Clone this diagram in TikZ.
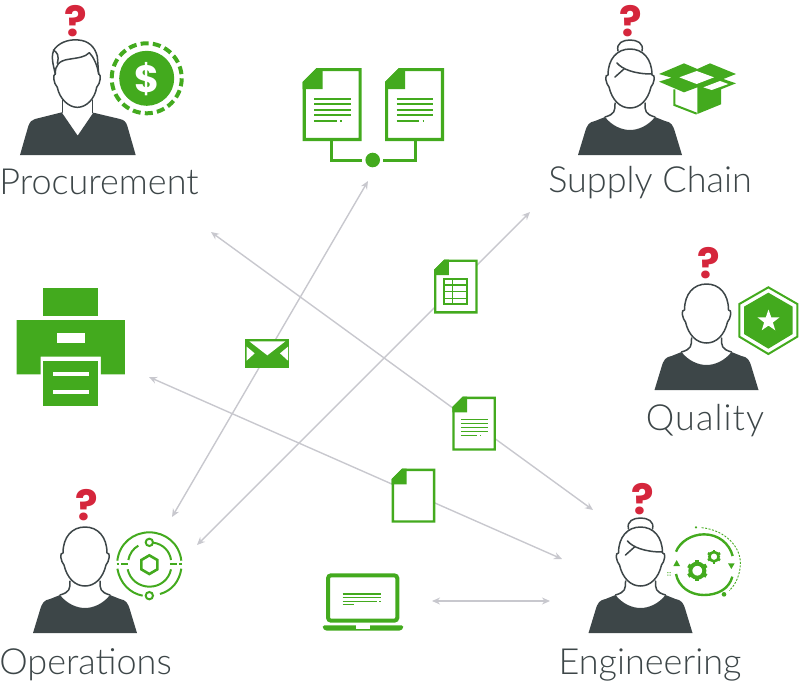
\documentclass[tikz,border=0pt]{standalone}
\usepackage{fontspec}
\setmainfont{Lato}[UprightFont={* Light}]
\newfontfamily\markfont{Poppins}[UprightFont={* Bold}]
\usepackage{tikz}
\usetikzlibrary{arrows.meta}
\usetikzlibrary{shapes.geometric}
\definecolor{leaf}{HTML}{43AA1E}
\definecolor{slate}{HTML}{3D4648}
\definecolor{wire}{HTML}{C8C8CE}
\definecolor{alarm}{HTML}{D5263C}
\tikzset{
  link/.style={draw=wire, line width=1.4pt, <->, >={Stealth[length=8pt,width=7pt]}},
  outline/.style={draw=slate, line width=1.5pt, line cap=round, line join=round},
  role/.style={text=slate, font=\fontsize{36}{36}\selectfont, anchor=base},
  query/.style={text=alarm, font=\markfont\fontsize{42}{42}\selectfont, inner sep=0pt},
  stroke/.style={draw=leaf, line width=#1},
  solid/.style={fill=leaf, draw=none}
}
% bare person, origin = middle of the bottom edge
\newcommand{\bust}[2]{
  \begin{scope}[shift={(#1,#2)}]
    \fill[slate] (-52,0) -- (-45,-23) .. controls (-43,-30) and (-41,-33) .. (-35,-34) -- (-25,-38) .. controls (-18,-29) and (-8,-25) .. (0,-25) .. controls (8,-25) and (18,-29) .. (25,-38) -- (35,-34) .. controls (41,-33) and (43,-30) .. (45,-23) -- (52,0) -- cycle;
    \draw[outline] (-15,-52) .. controls (-15,-44) and (-15,-41) .. (-25,-38);
    \draw[outline] (15,-52) .. controls (15,-44) and (15,-41) .. (25,-38);
    \draw[outline] (0,-106) .. controls (-13,-106) and (-22,-96) .. (-22,-80) .. controls (-26,-81) and (-24,-71) .. (-21,-68) .. controls (-18,-55) and (-10,-47) .. (0,-47) .. controls (10,-47) and (18,-55) .. (21,-68) .. controls (24,-71) and (26,-81) .. (22,-80) .. controls (22,-96) and (13,-106) .. (0,-106);
  \end{scope}
}
% hair bun and fringe on top of a bust
\newcommand{\bun}[2]{
  \begin{scope}[shift={(#1,#2)}]
    \draw[outline] (-12,-104) .. controls (-14,-112) and (-7,-115) .. (0,-115) .. controls (7,-115) and (14,-112) .. (12,-104);
    \draw[outline] (-13,-92) .. controls (-8,-86) and (4,-81) .. (22,-81);
    \draw[outline] (-6,-86) -- (-15,-78);
  \end{scope}
}
\newcommand{\docpage}[3]{
  \begin{scope}[shift={(#1,#2)},scale=#3]
    \filldraw[draw=leaf, fill=white, line width=#3*3.2pt, line join=miter] (1.6,14.5) -- (14.5,1.6) -- (57.4,1.6) -- (57.4,71.4) -- (1.6,71.4) -- cycle;
    \fill[leaf] (0,14) -- (14,0) -- (20,0) -- (20,21) -- (0,21) -- cycle;
  \end{scope}
}
\newcommand{\doclines}[3]{
  \begin{scope}[shift={(#1,#2)},scale=#3]
    \draw[stroke=#3*2pt] (11.5,30.5) -- (48,30.5) (11.5,36) -- (48,36) (11.5,41.5) -- (48,41.5) (11.5,47) -- (48,47) (11.5,52.5) -- (34,52.5) (37.5,52.5) -- (39,52.5);
  \end{scope}
}
\newcommand{\gearwheel}[4]{
  \draw[stroke=#4] (#1,#2) circle (#3);
  \foreach \a in {0,60,...,300}
    \draw[stroke=#4] (#1,#2) ++(\a+30:#3) -- ++(\a+30:#3*0.5);
}
\begin{document}
\begin{tikzpicture}[x=1pt, y=-1pt]
  \useasboundingbox (0,0) rectangle (800,681);
  % links
  \coordinate (procEnd) at (211,232);
  \coordinate (engEndA) at (593,510);
  \coordinate (printEnd) at (149,377);
  \coordinate (engEndB) at (562,559);
  \coordinate (opsEndA) at (172,517);
  \coordinate (docsEnd) at (368,181);
  \coordinate (opsEndB) at (197,545);
  \coordinate (supplyEnd) at (530,212);
  \coordinate (laptopEnd) at (432,601);
  \coordinate (engEndC) at (550,601);
  \draw[link] (procEnd) -- (engEndA);
  \draw[link] (printEnd) -- (engEndB);
  \draw[link] (opsEndA) -- (docsEnd);
  \draw[link] (opsEndB) -- (supplyEnd);
  \draw[link] (laptopEnd) -- (engEndC);
  % procurement
  \begin{scope}[scale=1/3]
    \fill[slate] (60,465) -- (85,378) .. controls (90,365) and (95,360) .. (105,357) -- (185,337) -- (233,407) -- (280,338) -- (360,357) .. controls (372,360) and (378,365) .. (382,378) -- (407,465) -- cycle;
    \draw[outline] (188,300) -- (188,337) (277,300) -- (277,338);
    \draw[outline] (166,222) .. controls (158,222) and (160,250) .. (172,262) .. controls (178,295) and (205,322) .. (232,322) .. controls (260,322) and (285,295) .. (290,262) .. controls (302,250) and (304,222) .. (296,222);
    \draw[outline] (166,222) .. controls (160,195) and (150,165) .. (165,145) .. controls (185,122) and (215,118) .. (235,120) .. controls (265,122) and (285,140) .. (292,170) -- (296,222);
    \draw[outline] (166,222) .. controls (165,195) and (178,182) .. (205,178) .. controls (235,173) and (255,172) .. (268,158) .. controls (280,170) and (292,195) .. (296,222);
    \draw[outline] (160,150) .. controls (172,158) and (178,165) .. (172,190);
  \end{scope}
  \node[query] (queryProc) at (76,21) {?};
  \node[role] (roleProc) at (99,194) {Procurement};
  \begin{scope}[shift={(146.7,78.3)}]
    \fill[leaf] (0,0) circle (27.5);
    \draw[stroke=4pt, dash pattern=on 8pt off 4.217pt] (0,0) circle (35);
  \end{scope}
  \node[text=white, font=\markfont\fontsize{38}{38}\selectfont, inner sep=0pt] (dollarSign) at (146.7,79) {\$};
  % supply chain
  \bust{630}{155}
  \bun{630}{155}
  \node[query] (querySupply) at (631,21) {?};
  \node[role] (roleSupply) at (650,192.5) {Supply Chain};
  \begin{scope}[shift={(560,0)},scale=1/3]
    \fill[leaf] (297,222) -- (372,190) -- (412,207) -- (450,190) -- (528,222) -- (490,237) -- (528,250) -- (483,268) -- (483,313) -- (412,342) -- (412,262) -- (372,277) -- (297,245) -- (335,233) -- cycle;
    \fill[white] (358,232) -- (410,213) -- (462,232) -- (410,252) -- cycle;
    \fill[white] (430,262) -- (480,243) -- (505,252) -- (455,270) -- cycle;
    \draw[stroke=2pt, line join=miter] (343,268) -- (343,315) -- (410,341);
  \end{scope}
  % quality
  \bust{706.5}{390}
  \node[query] (queryQual) at (708.5,263) {?};
  \node[role, font=\fontsize{36}{36}\selectfont\addfontfeature{LetterSpace=3}] (roleQual) at (705,430) {Quality};
  \begin{scope}[shift={(640,240)},scale=1/3]
    \draw[stroke=2pt] (385,142) -- (472,192) -- (472,290) -- (385,342) -- (298,290) -- (298,192) -- cycle;
    \fill[leaf] (385,158) -- (458,200) -- (458,282) -- (385,326) -- (312,282) -- (312,200) -- cycle;
  \end{scope}
  \node[star, star points=5, star point ratio=2.5, fill=white, minimum size=23pt, inner sep=0pt] (badgeStar) at (768.5,321) {};
  % engineering
  \bust{640.5}{633}
  \bun{640.5}{633}
  \node[query] (queryEng) at (643,499) {?};
  \node[role] (roleEng) at (650,674) {Engineering};
  \begin{scope}[shift={(570,480)},scale=1/3]
    \draw[stroke=2.4pt] (318,215) .. controls (330,185) and (365,163) .. (402,163) .. controls (445,163) and (478,190) .. (488,228);
    \draw[stroke=2.4pt] (318,282) .. controls (325,320) and (360,345) .. (402,345) .. controls (445,345) and (478,325) .. (487,290);
    \fill[leaf] (310,258) -- (330,258) -- (320,240) -- cycle;
    \fill[leaf] (474,250) -- (494,250) -- (484,267) -- cycle;
    \draw[draw=leaf, line width=.9pt, dash pattern=on 2pt off 1.5pt] (395,143) .. controls (465,150) and (512,200) .. (511,250) .. controls (511,280) and (500,310) .. (478,332);
    \fill[leaf] (378,142) circle (3.5);
    \fill[leaf] (462,343) circle (7);
    \fill[leaf] (292,276) rectangle +(3,3) (299,276) rectangle +(3,3) (292,284) rectangle +(3,3) (299,284) rectangle +(3,3);
    \gearwheel{382}{272}{21}{4pt}
    \gearwheel{432}{230}{14}{2.6pt}
  \end{scope}
  % operations
  \bust{85}{633}
  \node[query] (queryOps) at (87,505) {?};
  \node[role] (roleOps) at (85.5,674) {Operations};
  \begin{scope}[shift={(0,480)},scale=1/3]
    \draw[stroke=2pt] (352,242) .. controls (358,190) and (400,157) .. (448,157) .. controls (496,157) and (538,190) .. (544,242);
    \draw[stroke=2pt] (352,266) .. controls (360,310) and (390,340) .. (428,347);
    \draw[stroke=2pt] (544,266) .. controls (538,305) and (515,332) .. (480,342);
    \draw[stroke=2pt] (385,240) .. controls (388,222) and (400,205) .. (415,197);
    \draw[stroke=2pt] (460,188) .. controls (490,192) and (510,215) .. (513,240);
    \draw[stroke=2pt] (383,268) .. controls (390,300) and (418,320) .. (448,320) .. controls (480,320) and (506,300) .. (513,268);
    \draw[stroke=2pt] (350,253) -- (356,253) (364,253) -- (385,253) (510,253) -- (530,253) (538,253) -- (546,253);
    \filldraw[stroke=2pt, fill=white] (448,187) circle (11);
    \filldraw[stroke=2pt, fill=white] (448,347) circle (11);
    \draw[stroke=2.6pt] (448,226) -- (472,240) -- (472,268) -- (448,282) -- (424,268) -- (424,240) -- cycle;
  \end{scope}
  % linked documents
  \docpage{302.7}{68}{1}
  \doclines{302.7}{68}{1}
  \docpage{385}{68}{1}
  \doclines{385}{68}{1}
  \node[circle, fill=leaf, minimum size=14.6pt, inner sep=0pt] (docsJoin) at (372.7,160) {};
  \coordinate (docsDropA) at (331.5,141);
  \coordinate (docsDropB) at (415,141);
  \draw[stroke=3pt, line join=miter] (docsDropA) |- ([xshift=-3pt]docsJoin.west);
  \draw[stroke=3pt, line join=miter] (docsDropB) |- ([xshift=3pt]docsJoin.east);
  % printer
  \begin{scope}[shift={(0,270)},scale=1/3]
    \fill[leaf] (130,55) rectangle (293,138);
    \fill[leaf] (50,150) -- (375,150) -- (375,313) -- (303,313) -- (303,260) -- (122,260) -- (122,313) -- (50,313) -- cycle;
    \fill[white] (170,190) rectangle (255,218);
    \fill[leaf] (130,272) rectangle (293,408);
    \fill[white] (158,307) rectangle (268,318);
    \fill[white] (158,361) rectangle (268,373);
  \end{scope}
  % mail
  \begin{scope}[shift={(240,332)},scale=1/3]
    \fill[leaf] (16,20) rectangle (148,108);
    \fill[white] (28,28) -- (136,28) -- (82,70) -- cycle;
    \fill[white] (20,44) -- (20,86) -- (44,64) -- cycle;
    \fill[white] (144,44) -- (144,86) -- (120,64) -- cycle;
  \end{scope}
  % sheet
  \docpage{434}{259.5}{.74}
  \begin{scope}[shift={(380,250)},scale=1/3]
    \draw[stroke=2pt] (193,86) rectangle (262,163);
    \draw[stroke=1.6pt] (218,86) -- (218,163) (193,105) -- (262,105) (193,125) -- (262,125) (193,145) -- (262,145);
  \end{scope}
  % report
  \docpage{452.3}{396.7}{.74}
  \doclines{452.3}{396.7}{.74}
  % blank file
  \docpage{391.7}{468.7}{.74}
  % laptop
  \begin{scope}[shift={(310,560)},scale=1/3]
    \draw[stroke=4pt, rounded corners=3pt] (54,46) rectangle (262,182);
    \fill[leaf, rounded corners=1.5pt] (38,196) -- (280,196) -- (280,204) -- (272,212) -- (46,212) -- (38,204) -- cycle;
    \fill[white] (137,196) rectangle (180,207);
    \draw[stroke=1.3pt] (98,102) -- (213,102) (98,113) -- (213,113) (98,124) -- (200,124) (208,124) -- (213,124) (98,134) -- (132,134);
  \end{scope}
\end{tikzpicture}
\end{document}
